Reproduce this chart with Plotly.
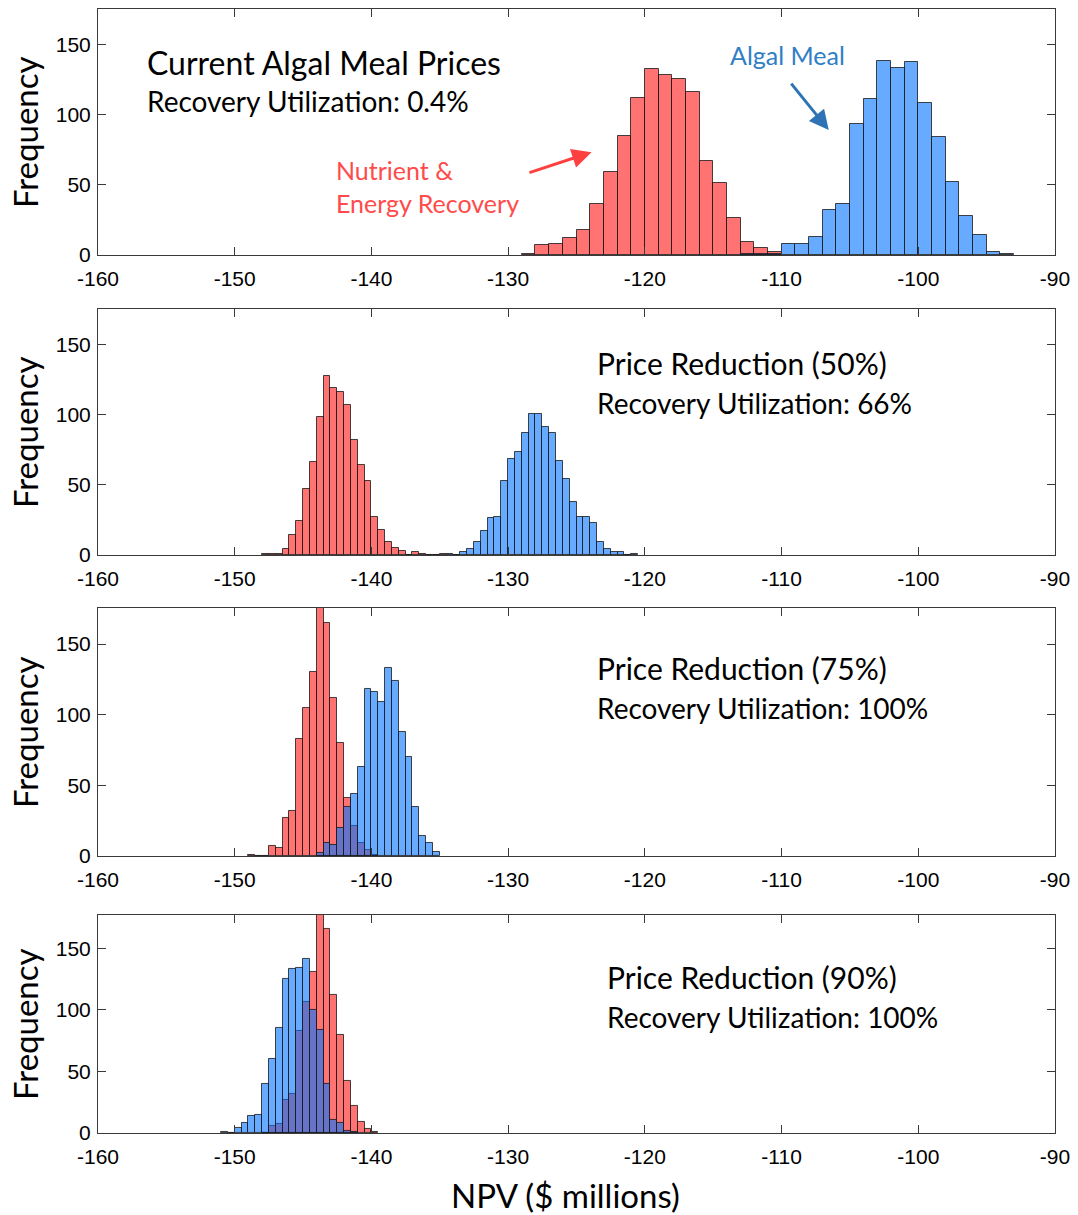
import plotly.graph_objects as go

# ---------------- data (histogram counts) ----------------
# Panel 1: Current Algal Meal Prices (bin width 1)
p1_width = 1.0
p1_red_start = -129
p1_red = [1, 7, 8, 12, 18, 36, 59, 85, 112, 132, 128, 125, 116, 67, 51, 26, 9, 5, 2]
p1_blue_start = -113
p1_blue = [1, 1, 1, 8, 8, 13, 32, 36, 93, 111, 138, 133, 137, 108, 84, 52, 28, 14, 2, 1]

# Panel 2: Price Reduction (50%) (bin width 0.5)
p2_width = 0.5
p2_red_start = -148
p2_red = [1, 1, 1, 4, 14, 24, 47, 66, 98, 127, 119, 116, 107, 82, 64, 53, 27, 18, 9, 5,
          3, 0, 2, 1, 0, 0, 1]
p2_blue_start = -134.5
p2_blue = [1, 0, 2, 4, 9, 17, 26, 27, 53, 68, 73, 87, 100, 100, 91, 87, 67, 54, 38, 27,
           27, 23, 9, 4, 2, 2, 0, 1]

# Panel 3: Price Reduction (75%) (bin width 0.5)
p3_width = 0.5
p3_red_start = -149
p3_red = [1, 0, 0, 7, 6, 27, 32, 83, 105, 130, 178, 165, 112, 80, 41, 21, 9, 4, 1]
p3_blue_start = -144
p3_blue = [2, 9, 8, 20, 35, 44, 63, 118, 116, 109, 133, 124, 88, 70, 35, 14, 9, 3]

# Panel 4: Price Reduction (90%) (bin width 0.5)
p4_width = 0.5
p4_red_start = -148
p4_red = [0, 6, 7, 27, 32, 83, 106, 131, 180, 166, 112, 80, 42, 22, 9, 3, 1]
p4_blue_start = -151
p4_blue = [1, 0, 4, 8, 14, 15, 40, 60, 85, 125, 133, 134, 141, 100, 84, 40, 11, 8, 2, 1]

x_ticks = [-160, -150, -140, -130, -120, -110, -100, -90]
x_tick_labels = ["-160", "-150", "-140", "-130", "-120", "-110", "-100", "-90"]
y_ticks = [0, 50, 100, 150]

titles = [
    ("Current Algal Meal Prices", "Recovery Utilization: 0.4%"),
    ("Price Reduction (50%)", "Recovery Utilization: 66%"),
    ("Price Reduction (75%)", "Recovery Utilization: 100%"),
    ("Price Reduction (90%)", "Recovery Utilization: 100%"),
]

panels = [
    (p1_width, p1_red_start, p1_red, p1_blue_start, p1_blue),
    (p2_width, p2_red_start, p2_red, p2_blue_start, p2_blue),
    (p3_width, p3_red_start, p3_red, p3_blue_start, p3_blue),
    (p4_width, p4_red_start, p4_red, p4_blue_start, p4_blue),
]

# ---------------- styling ----------------
RED = "rgba(255,0,0,0.55)"
BLUE = "rgba(0,115,255,0.6)"
EDGE = "rgba(25,25,25,0.8)"
AXC = "#3a3a3a"
TXT = "Lato"
TICKF = "Liberation Sans"

y_domains = [[0.7811, 1.0], [0.5142, 0.7331], [0.2464, 0.4671], [0.0, 0.1940]]
y_ranges = [[0, 175], [0, 175], [0, 175.5], [0, 177]]

fig = go.Figure()

for i, (w, rs, rv, bs, bv) in enumerate(panels):
    k = "" if i == 0 else str(i + 1)
    rx = [rs + w * j + w / 2 for j in range(len(rv))]
    bx = [bs + w * j + w / 2 for j in range(len(bv))]
    fig.add_trace(go.Bar(x=rx, y=rv, width=w, marker=dict(color=RED, line=dict(color=EDGE, width=1)),
                         xaxis="x" + k, yaxis="y" + k, showlegend=False))
    fig.add_trace(go.Bar(x=bx, y=bv, width=w, marker=dict(color=BLUE, line=dict(color=EDGE, width=1)),
                         xaxis="x" + k, yaxis="y" + k, showlegend=False))

axis_common = dict(showline=True, linecolor=AXC, linewidth=1, mirror="allticks", ticks="inside",
                   ticklen=8, tickcolor=AXC, tickwidth=1, showgrid=False, zeroline=False,
                   tickfont=dict(family=TICKF, size=21, color="#000"))

layout = dict(
    width=1078, height=1215, margin=dict(l=98, r=23, t=9, b=82),
    paper_bgcolor="white", plot_bgcolor="white", barmode="overlay", bargap=0,
    showlegend=False,
)
for i in range(4):
    k = "" if i == 0 else str(i + 1)
    layout["xaxis" + k] = dict(domain=[0, 1], range=[-160, -90], tickvals=x_ticks, ticktext=x_tick_labels,
                               ticklabelstandoff=5, anchor="y" + k, **axis_common)
    layout["yaxis" + k] = dict(domain=y_domains[i], range=y_ranges[i], tickvals=y_ticks,
                               ticklabelstandoff=2, anchor="x" + k, **axis_common)
fig.update_layout(**layout)

ann = []
# panel headings
head_pos = [(-156.56, 137.2, 109.5), (-123.64, 136.6, 108.1), (-123.64, 133.0, 104.7), (-122.91, 126.5, 94.0)]
head_size = [32, 30, 30, 30]
for i, (t1, t2) in enumerate(titles):
    k = "" if i == 0 else str(i + 1)
    hx, hy1, hy2 = head_pos[i]
    ann.append(dict(text=t1, x=hx, y=hy1, xref="x" + k, yref="y" + k, xanchor="left", yanchor="middle",
                    showarrow=False, font=dict(family=TXT, size=head_size[i], color="#000")))
    ann.append(dict(text=t2, x=hx, y=hy2, xref="x" + k, yref="y" + k, xanchor="left", yanchor="middle",
                    showarrow=False, font=dict(family=TXT, size=28, color="#000")))
    ann.append(dict(text="Frequency", x=-0.0763, y=0.5, xref="paper", yref=("y" + k + " domain"),
                    xanchor="center", yanchor="middle", textangle=-90, showarrow=False,
                    font=dict(family=TXT, size=33, color="#000")))

# panel 1 labels and arrows
ann.append(dict(text="Nutrient &", x=-142.74, y=60.4, xref="x", yref="y", xanchor="left", yanchor="middle",
                showarrow=False, font=dict(family=TXT, size=25, color="#ff4b4b")))
ann.append(dict(text="Energy Recovery", x=-142.74, y=37.0, xref="x", yref="y", xanchor="left", yanchor="middle",
                showarrow=False, font=dict(family=TXT, size=25, color="#ff4b4b")))
ann.append(dict(text="Algal Meal", x=-113.92, y=142.2, xref="x", yref="y", xanchor="left", yanchor="middle",
                showarrow=False, font=dict(family=TXT, size=25, color="#2f7ec6")))
ann.append(dict(text="", x=-123.9, y=73.2, xref="x", yref="y", ax=-128.55, ay=58.3, axref="x", ayref="y",
                showarrow=True, arrowhead=2, arrowsize=1.3, arrowwidth=3, arrowcolor="#ff4040", standoff=0))
ann.append(dict(text="", x=-106.55, y=88.9, xref="x", yref="y", ax=-109.38, ay=123.0, axref="x", ayref="y",
                showarrow=True, arrowhead=2, arrowsize=1.3, arrowwidth=3, arrowcolor="#2e74b5", standoff=0))

ann.append(dict(text="NPV ($ millions)", x=0.488, y=-0.0552, xref="paper", yref="paper", xanchor="center",
                yanchor="middle", showarrow=False, font=dict(family=TXT, size=33, color="#000")))

fig.update_layout(annotations=ann)
fig.write_html("out.html")
